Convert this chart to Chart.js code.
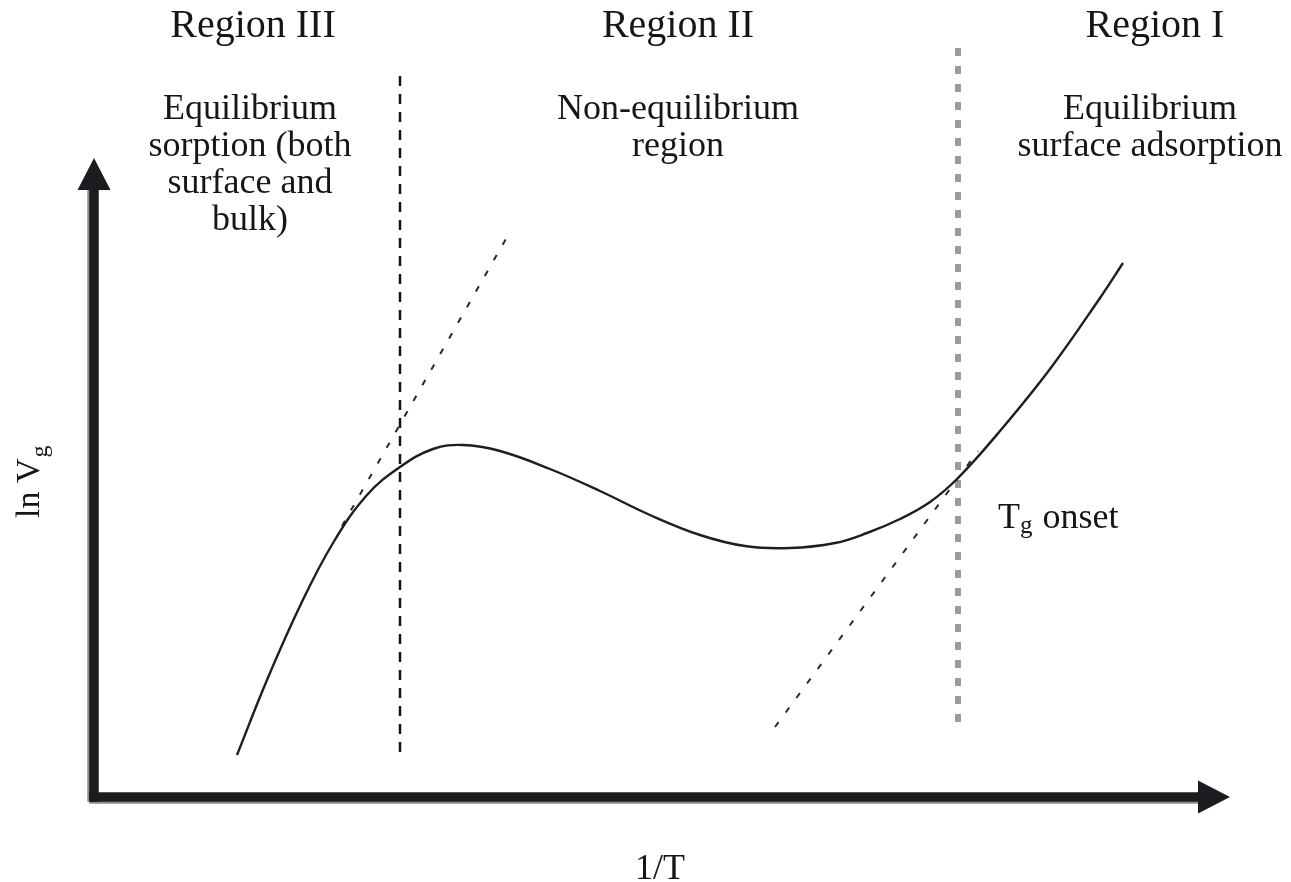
<!DOCTYPE html>
<html>
<head>
<meta charset="utf-8">
<script src="https://cdn.jsdelivr.net/npm/chart.js@4.4.1/dist/chart.umd.min.js"></script>
<style>
  html, body { margin: 0; padding: 0; background: #ffffff; }
  #wrap { width: 1291px; height: 882px; position: relative; }
  canvas { display: block; }
</style>
</head>
<body>
<div id="wrap"><canvas id="c" width="1291" height="882"></canvas></div>
<script>
// Retention diagram: ln Vg against 1/T, arbitrary units (origin at the axes corner)
const curveX = [14.3, 17.3, 20.6, 23.9, 27.3, 30.6, 33.9, 36.9, 40.6, 45.6, 50.6, 55.6,
                60.6, 65.1, 69.6, 74.1, 77.3, 80.6, 83.6, 86.4, 90.6, 95.6, 100.6, 102.9];
const curveY = [4.2, 11.7, 19.1, 25.4, 30.2, 33.0, 34.8, 35.2, 34.6, 32.8, 30.6, 28.2,
                26.2, 25.1, 24.9, 25.4, 26.4, 27.8, 29.5, 31.9, 36.6, 42.8, 49.9, 53.4];

// Tangent to the equilibrium sorption branch (Region III)
const tangentBulkX = [24.8, 41.3];
const tangentBulkY = [27.1, 56.0];
// Tangent to the surface adsorption branch (Region I), meeting the curve at Tg onset
const tangentSurfX = [68.1, 88.4];
const tangentSurfY = [7.0, 34.6];

// Region boundaries
const boundaryIIIX = [30.6, 30.6];
const boundaryIIIY = [4.5, 72.2];
const boundaryTgX = [86.4, 86.4];
const boundaryTgY = [7.5, 75.2];

// Axis extents (arrow tips)
const axisXEnd = 113.6;
const axisYEnd = 63.9;

// Text
const regionTitles = ['Region III', 'Region II', 'Region I'];
const regionNotes = [
  ['Equilibrium', 'sorption (both', 'surface and', 'bulk)'],
  ['Non-equilibrium', 'region'],
  ['Equilibrium', 'surface adsorption']
];
const xAxisLabel = '1/T';
const yAxisLabel = ['ln V', 'g'];
const tgLabel = ['T', 'g', 'onset'];

const zip = (xs, ys) => xs.map((x, i) => ({ x, y: ys[i] }));

const INK = '#1c1c20';
const SERIF = '"Liberation Serif", "DejaVu Serif", serif';

// text anchors, in axis units
const layout = {
  titleX: [15.9, 58.4, 106.1], titleY: 76.0,
  noteX: [15.6, 58.4, 105.6], noteY: 67.8, noteLine: 37,
  tgX: 90.4, tgY: 26.9,
  xLabelX: 56.6, xLabelY: -8.2,
  yLabelX: -5.5, yLabelY: 27.9
};

const axesPlugin = {
  id: 'schematicAxes',
  beforeDatasetsDraw(chart) {
    const { ctx } = chart;
    const xs = chart.scales.x, ys = chart.scales.y;
    const ox = xs.getPixelForValue(0), oy = ys.getPixelForValue(0);
    const xTip = xs.getPixelForValue(axisXEnd), yTip = ys.getPixelForValue(axisYEnd);
    const th = 9.5, head = 32, half = 16.5;
    ctx.save();
    // soft grey edge
    ctx.fillStyle = '#8d8d92';
    ctx.fillRect(ox - th / 2 - 2, yTip + head - 2, 2.5, oy - yTip - head + th / 2 + 2);
    ctx.fillRect(ox - th / 2, oy + th / 2 - 0.5, xTip - head - ox + th / 2, 2.5);
    ctx.fillStyle = INK;
    // y axis
    ctx.fillRect(ox - th / 2, yTip + head - 1, th, oy - yTip - head + th / 2 + 1);
    // x axis
    ctx.fillRect(ox - th / 2, oy - th / 2, xTip - head - ox + th / 2 + 1, th);
    // arrow heads
    ctx.beginPath();
    ctx.moveTo(ox, yTip);
    ctx.lineTo(ox - half, yTip + head);
    ctx.lineTo(ox + half, yTip + head);
    ctx.closePath();
    ctx.fill();
    ctx.beginPath();
    ctx.moveTo(xTip, oy);
    ctx.lineTo(xTip - head, oy - half);
    ctx.lineTo(xTip - head, oy + half);
    ctx.closePath();
    ctx.fill();
    ctx.restore();
  }
};

const textPlugin = {
  id: 'schematicText',
  afterDraw(chart) {
    const { ctx } = chart;
    const xs = chart.scales.x, ys = chart.scales.y;
    const px = v => xs.getPixelForValue(v), py = v => ys.getPixelForValue(v);
    ctx.save();
    ctx.fillStyle = '#161616';
    ctx.textBaseline = 'alphabetic';
    ctx.textAlign = 'center';
    ctx.font = '40px ' + SERIF;
    regionTitles.forEach((t, i) => ctx.fillText(t, px(layout.titleX[i]), py(layout.titleY)));
    ctx.font = '36px ' + SERIF;
    regionNotes.forEach((lines, i) => {
      lines.forEach((t, j) => ctx.fillText(t, px(layout.noteX[i]), py(layout.noteY) + j * layout.noteLine));
    });
    ctx.fillText(xAxisLabel, px(layout.xLabelX), py(layout.xLabelY));

    // T_g onset
    ctx.textAlign = 'left';
    let x = px(layout.tgX);
    const yb = py(layout.tgY);
    ctx.font = '36px ' + SERIF;
    ctx.fillText(tgLabel[0], x, yb);
    x += ctx.measureText(tgLabel[0]).width;
    ctx.font = '25px ' + SERIF;
    ctx.fillText(tgLabel[1], x, yb + 5);
    x += ctx.measureText(tgLabel[1]).width + 10;
    ctx.font = '36px ' + SERIF;
    ctx.fillText(tgLabel[2], x, yb);

    // ln V_g, vertical
    ctx.translate(px(layout.yLabelX), py(layout.yLabelY));
    ctx.rotate(-Math.PI / 2);
    ctx.font = '34px ' + SERIF;
    ctx.fillText(yAxisLabel[0], 0, 0);
    const w = ctx.measureText(yAxisLabel[0]).width;
    ctx.font = '24px ' + SERIF;
    ctx.fillText(yAxisLabel[1], w + 1, 8);
    ctx.restore();
  }
};

new Chart(document.getElementById('c'), {
  type: 'scatter',
  data: {
    datasets: [
      {
        label: 'ln Vg',
        data: zip(curveX, curveY),
        showLine: true,
        borderColor: '#1e1e1e',
        borderWidth: 2.4,
        pointRadius: 0,
        tension: 0.4,
        order: 0
      },
      {
        label: 'bulk sorption tangent',
        data: zip(tangentBulkX, tangentBulkY),
        showLine: true,
        borderColor: '#2a2a2a',
        borderWidth: 2,
        borderDash: [6, 12],
        pointRadius: 0,
        order: 1
      },
      {
        label: 'surface adsorption tangent',
        data: zip(tangentSurfX, tangentSurfY),
        showLine: true,
        borderColor: '#2a2a2a',
        borderWidth: 2,
        borderDash: [6, 12],
        pointRadius: 0,
        order: 1
      },
      {
        label: 'Region III / II boundary',
        data: zip(boundaryIIIX, boundaryIIIY),
        showLine: true,
        borderColor: '#151515',
        borderWidth: 2.5,
        borderDash: [10, 8],
        pointRadius: 0,
        order: 2
      },
      {
        label: 'Tg onset boundary',
        data: zip(boundaryTgX, boundaryTgY),
        showLine: true,
        borderColor: '#9b9b9b',
        borderWidth: 6,
        borderDash: [8, 10],
        pointRadius: 0,
        order: 3
      }
    ]
  },
  options: {
    responsive: false,
    animation: false,
    devicePixelRatio: 1,
    layout: { padding: 0 },
    plugins: { legend: { display: false }, tooltip: { enabled: false } },
    scales: {
      x: { type: 'linear', min: -9.4, max: 119.7, display: false },
      y: { type: 'linear', min: -8.5, max: 79.7, display: false }
    }
  },
  plugins: [axesPlugin, textPlugin]
});
</script>
</body>
</html>
